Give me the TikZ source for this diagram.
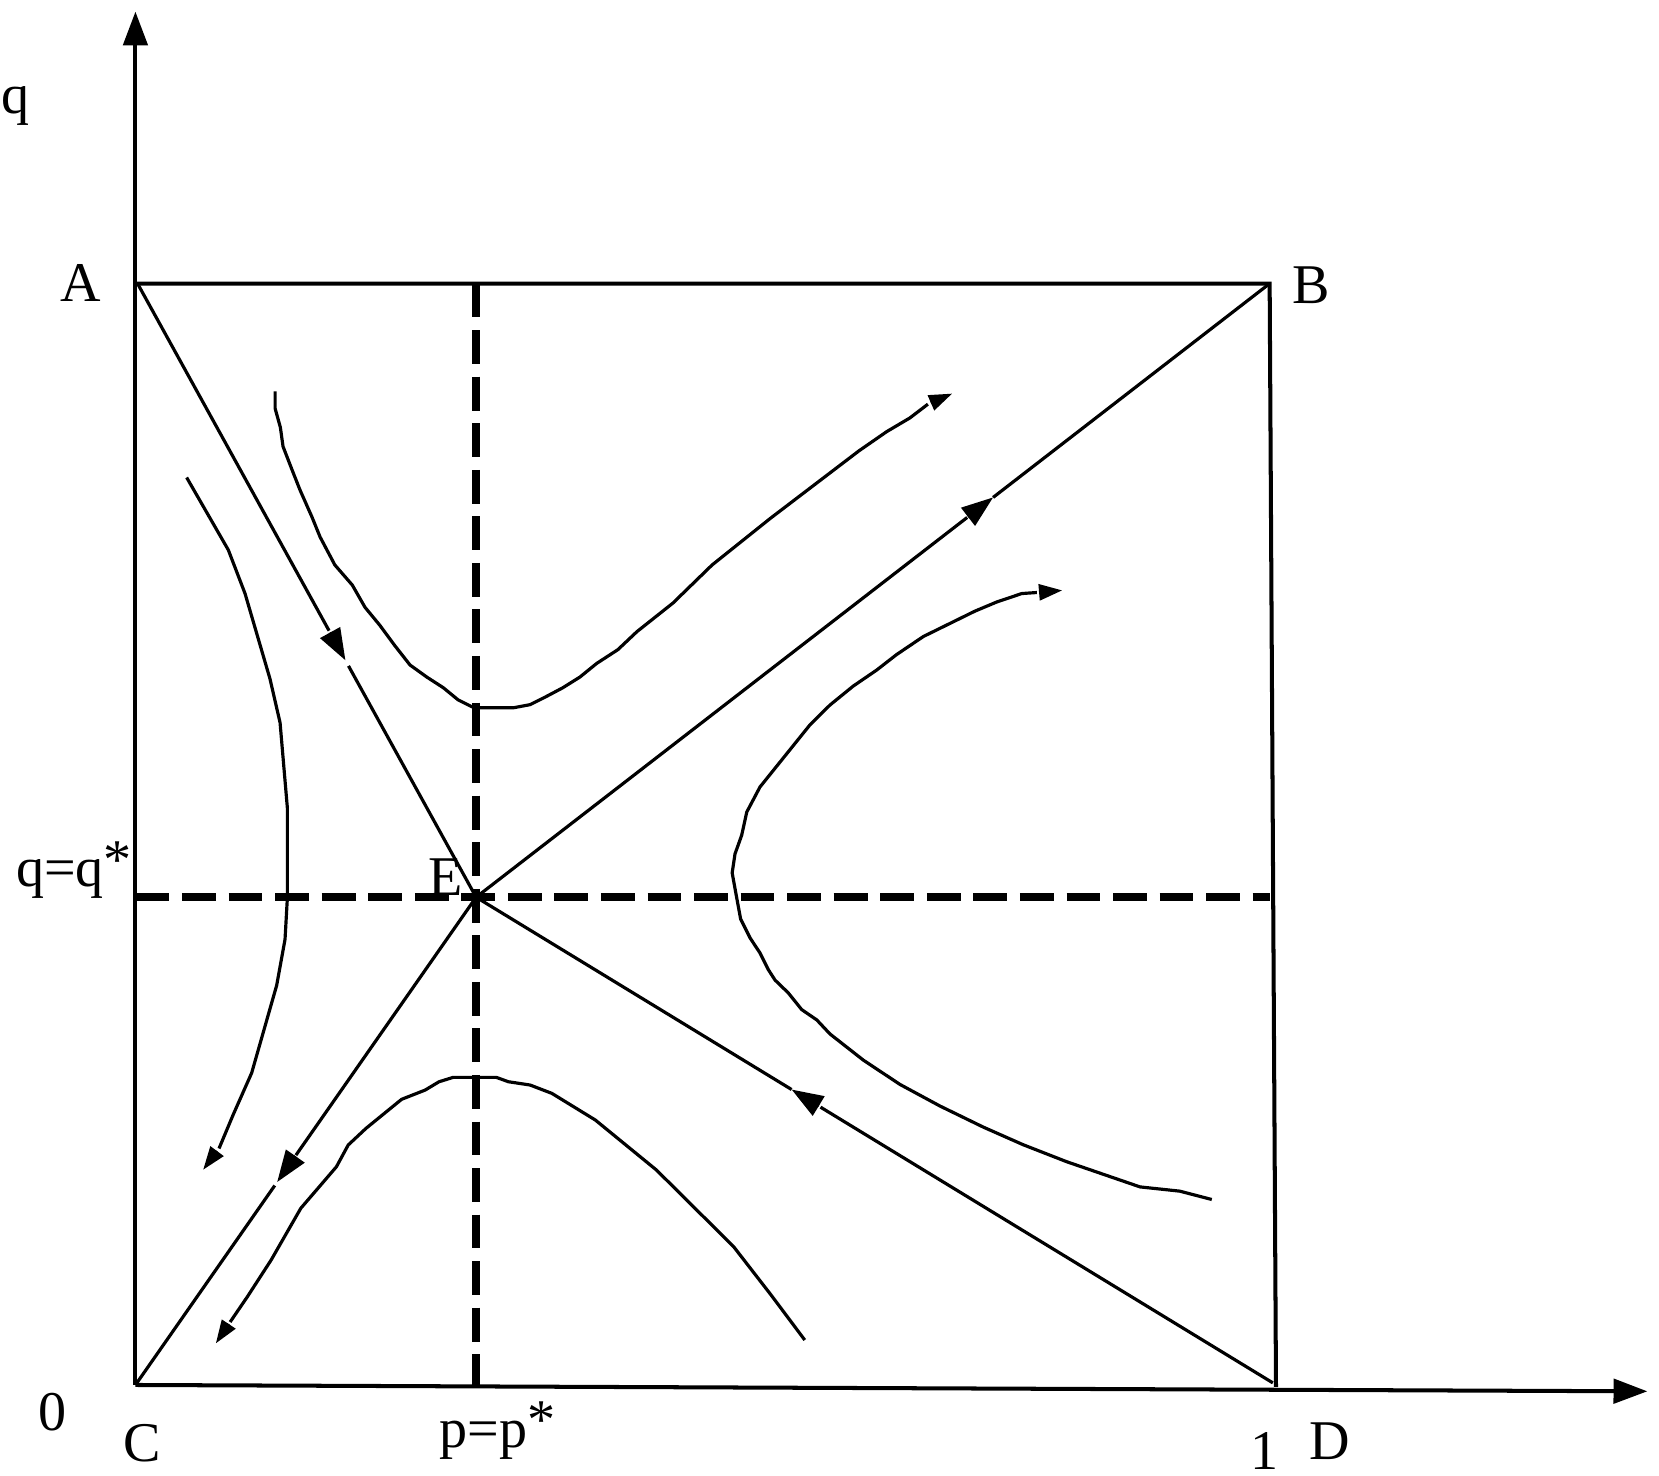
\documentclass[tikz,border=0pt]{standalone}
\usepackage{fontspec}
\setmainfont{Liberation Serif}
\usetikzlibrary{arrows.meta,calc}
\begin{document}
\begin{tikzpicture}[x=0.5pt,y=-0.5pt,
  ln/.style={line width=1.5pt,line join=round},
  ax/.style={line width=1.9pt},
  dsh/.style={line width=3.8pt,dash pattern=on 16pt off 6pt},
  bigtip/.style={line width=1.5pt,-{Triangle[length=15pt,width=10.5pt]}},
  smalltip/.style={line width=1.5pt,-{Triangle[length=11pt,width=7.5pt]}},
  axtip/.style={ax,-{Triangle[length=16pt,width=11.5pt]}},
  lbl/.style={font=\fontsize{26.5}{30}\selectfont,inner sep=0pt,anchor=base}]
\useasboundingbox (0,0) rectangle (1568,1395);

% key points
\coordinate (O) at (128,1309);
\coordinate (A) at (130,268);
\coordinate (Atop) at (128,268);
\coordinate (B) at (1200,268);
\coordinate (D) at (1203,1307);
\coordinate (Dbot) at (1206,1311);
\coordinate (E) at (450,848);
\coordinate (Yend) at (128,11);
\coordinate (Xend) at (1557,1315);

% axes and box
\draw[axtip] (O) -- (Yend);
\draw[axtip] (O) -- (Xend);
\draw[ax] (Atop) -- (B) -- (Dbot);

% A -> E
\coordinate (T1) at ($(A)!0.614!(E)$);
\draw[ln] (A) -- ($(T1)!16pt!(A)$);
\draw[bigtip] ($(T1)!15pt!(A)$) -- (T1);
\draw[ln] ($(T1)!3pt!(E)$) -- (E);

% E -> B
\coordinate (T2) at ($(E)!0.6515!(B)$);
\draw[ln] (E) -- ($(T2)!15.5pt!(E)$);
\draw[bigtip] ($(T2)!15pt!(E)$) -- (T2);
\draw[ln] (T2) -- (B);

% D -> E
\coordinate (T3) at ($(E)!0.396!(D)$);
\draw[ln] (D) -- ($(T3)!16pt!(D)$);
\draw[bigtip] ($(T3)!15pt!(D)$) -- (T3);
\draw[ln] (T3) -- (E);

% E -> C
\coordinate (T4) at ($(E)!0.584!(O)$);
\draw[ln] (E) -- ($(T4)!15.5pt!(E)$);
\draw[bigtip] ($(T4)!15pt!(E)$) -- (T4);
\draw[ln] ($(T4)!2pt!(O)$) -- (O);

% curve 1 (upper)
\coordinate (c1e) at (877,382);
\coordinate (c1t) at (900,372);
\draw[ln] (260,370) -- (260,386) -- (265,404) -- (267.5,422) -- (276,444) -- (283.5,463) -- (295,489) -- (302.5,507.5) -- (316.5,534) -- (333,553) -- (345,574) -- (359,591) -- (373,610) -- (387.5,628.5) -- (403.5,640) -- (419,650) -- (433,661.5) -- (446,668) -- (453.5,669) -- (485,669) -- (501,666) -- (515,659) -- (532,650) -- (548,640) -- (564,627) -- (584,614) -- (602,597) -- (636,570) -- (673,534) -- (728,490) -- (812,426) -- (838,408) -- (860,395) -- (c1e);
\draw[smalltip] ($(c1t)!11pt!(c1e)$) -- (c1t);

% curve 2 (left)
\coordinate (c2e) at (207,1085.5);
\coordinate (c2t) at (192,1105.6);
\draw[ln] (176.4,451.3) -- (215.8,519.8) -- (231.6,561) -- (255.2,641.7) -- (264.7,683) -- (271.6,763.6) -- (271.6,848.6) -- (269.4,887.8) -- (261.5,931.3) -- (237.9,1014) -- (220.5,1053.3) -- (c2e);
\draw[smalltip] ($(c2t)!11pt!(c2e)$) -- (c2t);

% curve 3 (right)
\coordinate (c3e) at (980,560);
\coordinate (c3t) at (1004,558);
\draw[ln] (1145.3,1133.7) -- (1115,1125.8) -- (1077.5,1121.8) -- (1008.2,1098) -- (967.2,1082) -- (929.4,1065.3) -- (888.5,1045.4) -- (850.7,1025) -- (816,1002) -- (784.5,977.3) -- (772,964) -- (757.7,954.2) -- (745,938.4) -- (732.5,926.3) -- (726.2,916.5) -- (718.3,900.7) -- (709,886.6) -- (700,868.6) -- (696,847) -- (692,825) -- (694.7,807) -- (701,789.4) -- (705.8,767.5) -- (718.3,743.8) -- (765.6,685) -- (784.5,666.3) -- (806.5,648.4) -- (828.6,633.3) -- (847.5,618.6) -- (872.7,601.6) -- (921.5,577.6) -- (942,569) -- (965.7,561) -- (c3e);
\draw[smalltip] ($(c3t)!11pt!(c3e)$) -- (c3t);

% curve 4 (lower)
\coordinate (c4e) at (217.5,1249.5);
\coordinate (c4t) at (204,1269.7);
\draw[ln] (760.6,1266.5) -- (728.8,1224) -- (693.4,1178.3) -- (620.5,1105.9) -- (562.7,1058.6) -- (521.6,1033.4) -- (501,1025.5) -- (480.5,1022.4) -- (469.2,1018.3) -- (428.2,1018.3) -- (415,1022.4) -- (402,1030.2) -- (379.6,1039) -- (346,1066.4) -- (329.1,1082.2) -- (318,1102.7) -- (284.3,1142) -- (256.2,1191) -- (233.8,1225.6) -- (c4e);
\draw[smalltip] ($(c4t)!11pt!(c4e)$) -- (c4t);

% dashed lines
\coordinate (Pt) at (450,268);
\coordinate (Pb) at (450,1311);
\coordinate (Ql) at (128,848);
\coordinate (Qr) at (1200,848);
\draw[dsh] (Pt) -- (Pb);
\draw[dsh] (Ql) -- (Qr);

% labels
\node[lbl] (lq) at (15,107) {q};
\node[lbl] (lA) at (76,285) {A};
\node[lbl] (lB) at (1239,287) {B};
\node[lbl] (lqs) at (70,838) {q=q\raisebox{4pt}{*}};
\node[lbl] (lE) at (421,846) {E};
\node[lbl] (l0) at (50,1352) {0};
\node[lbl] (lC) at (134.5,1381) {C};
\node[lbl] (lps) at (470,1368) {p=p\raisebox{4pt}{*}};
\node[lbl] (l1) at (1195.5,1389) {1};
\node[lbl] (lD) at (1257,1379) {D};
\end{tikzpicture}
\end{document}
